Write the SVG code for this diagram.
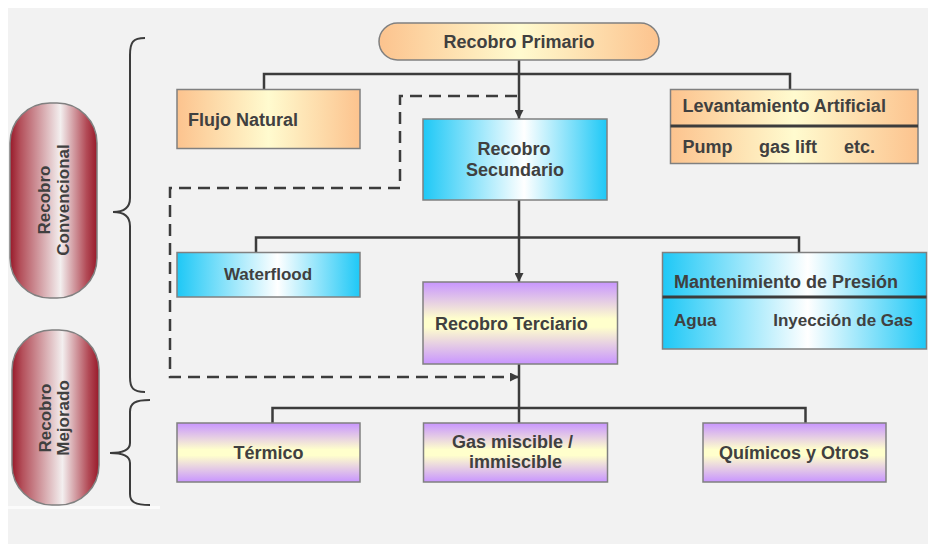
<svg xmlns="http://www.w3.org/2000/svg" width="928" height="544" viewBox="0 0 928 544">
<defs>
<style>
.t{font-family:"Liberation Sans",Arial,sans-serif;font-weight:bold;font-size:18px;fill:#404040}
.s{font-size:17px}
.box{stroke:#808080;stroke-width:1.5}
.ln{fill:none;stroke:#3c3c3c;stroke-width:2.5}
.dash{fill:none;stroke:#3c3c3c;stroke-width:2.5;stroke-dasharray:12 7}
.div{stroke:#3c3c3c;stroke-width:3}
.br{fill:none;stroke:#3c3c3c;stroke-width:2}
</style>
<linearGradient id="gOr" x1="0" y1="0" x2="1" y2="0">
<stop offset="0" stop-color="#fcc38e"/><stop offset="0.5" stop-color="#fffbcf"/><stop offset="1" stop-color="#fcc38e"/>
</linearGradient>
<linearGradient id="gCy" x1="0" y1="0" x2="1" y2="0">
<stop offset="0" stop-color="#1ec8f6"/><stop offset="0.55" stop-color="#ffffff"/><stop offset="1" stop-color="#1ec8f6"/>
</linearGradient>
<linearGradient id="gPu" x1="0" y1="0" x2="0" y2="1">
<stop offset="0" stop-color="#c895ff"/><stop offset="0.45" stop-color="#ffffcc"/><stop offset="0.55" stop-color="#ffffcc"/><stop offset="1" stop-color="#c895ff"/>
</linearGradient>
<linearGradient id="gRd" x1="0" y1="0" x2="1" y2="0">
<stop offset="0" stop-color="#981a2a"/><stop offset="0.12" stop-color="#b4505b"/><stop offset="0.58" stop-color="#f3efef"/><stop offset="0.88" stop-color="#b24a56"/><stop offset="1" stop-color="#981a2a"/>
</linearGradient>
<marker id="ar" markerUnits="userSpaceOnUse" markerWidth="9" markerHeight="9" refX="9" refY="4.5" orient="auto">
<path d="M0,0 L9,4.5 L0,9 z" fill="#3c3c3c"/>
</marker>
</defs>
<rect x="0" y="0" width="928" height="544" fill="#ffffff"/>
<rect x="8" y="8" width="920" height="536" fill="#f2f2f2"/>
<rect x="8" y="506" width="152" height="3" fill="#fbfbfb"/>

<g id="connectors">
<path class="ln" d="M519,60 V74 M264,89 V74 H790 V89"/>
<path class="ln" d="M519,74 V119" marker-end="url(#ar)"/>
<path class="ln" d="M519,200 V237.5 M256,252 V237.5 H799 V252"/>
<path class="ln" d="M519,237.5 V282" marker-end="url(#ar)"/>
<path class="ln" d="M519,364 V423 M272.5,423 V408 H805.5 V423"/>
<path class="dash" d="M517,96 H400 V188 H170 V377 H519" marker-end="url(#ar)"/>
<path class="br" d="M145,38 C133,38 130,42 130,55 V198 C130,207 124,212 113,212 C124,212 130,217 130,226 V377 C130,388 133,392 145,392"/>
<path class="br" d="M150,400 C135,400 130,403 130,412 V443 C130,449 124,453 110,453 C124,453 130,457 130,463 V494 C130,502 135,505 150,505"/>
</g>

<g id="recobro-convencional">
<rect class="box" x="10" y="103" width="87" height="195" rx="40" ry="40" fill="url(#gRd)" stroke="#707070"/>
<text class="t s" transform="translate(50,200) rotate(-90)" text-anchor="middle">Recobro</text>
<text class="t s" transform="translate(69,200) rotate(-90)" text-anchor="middle">Convencional</text>
</g>
<g id="recobro-mejorado">
<rect class="box" x="12" y="330" width="87" height="175" rx="40" ry="40" fill="url(#gRd)" stroke="#707070"/>
<text class="t s" transform="translate(51,418) rotate(-90)" text-anchor="middle">Recobro</text>
<text class="t s" transform="translate(69,418) rotate(-90)" text-anchor="middle">Mejorado</text>
</g>

<g id="recobro-primario">
<rect class="box" x="379" y="23" width="280" height="37" rx="18.5" ry="18.5" fill="url(#gOr)"/>
<text class="t" x="519" y="48" text-anchor="middle">Recobro Primario</text>
</g>
<g id="flujo-natural">
<rect class="box" x="177" y="89.5" width="183" height="59" fill="url(#gOr)"/>
<text class="t" x="188" y="126">Flujo Natural</text>
</g>
<g id="levantamiento-artificial">
<rect class="box" x="670.5" y="89.5" width="247.5" height="74" fill="url(#gOr)"/>
<line class="div" x1="670.5" y1="126" x2="918" y2="126"/>
<text class="t" x="682.5" y="112">Levantamiento Artificial</text>
<text class="t" x="682.5" y="153">Pump</text>
<text class="t" x="759" y="153">gas lift</text>
<text class="t" x="844" y="153">etc.</text>
</g>
<g id="recobro-secundario">
<rect class="box" x="423" y="119" width="184" height="81" fill="url(#gCy)"/>
<text class="t" x="514" y="155" text-anchor="middle">Recobro</text>
<text class="t" x="515" y="176" text-anchor="middle">Secundario</text>
</g>
<g id="waterflood">
<rect class="box" x="177" y="252.5" width="183" height="44.5" fill="url(#gCy)"/>
<text class="t s" x="268" y="280" text-anchor="middle">Waterflood</text>
</g>
<g id="recobro-terciario">
<rect class="box" x="423" y="282" width="194.5" height="82" fill="url(#gPu)"/>
<text class="t" x="435" y="329.5">Recobro Terciario</text>
</g>
<g id="mantenimiento-presion">
<rect class="box" x="662.5" y="252.5" width="264" height="96.5" fill="url(#gCy)"/>
<line class="div" x1="662.5" y1="297" x2="926.5" y2="297"/>
<text class="t" x="674" y="288">Mantenimiento de Presión</text>
<text class="t s" x="674" y="326">Agua</text>
<text class="t s" x="913" y="326" text-anchor="end">Inyección de Gas</text>
</g>
<g id="termico">
<rect class="box" x="177" y="423" width="183" height="59" fill="url(#gPu)"/>
<text class="t" x="268.5" y="459" text-anchor="middle">Térmico</text>
</g>
<g id="gas-miscible">
<rect class="box" x="423.5" y="423" width="184" height="59" fill="url(#gPu)"/>
<text class="t" x="452" y="448">Gas miscible /</text>
<text class="t" x="469" y="468">immiscible</text>
</g>
<g id="quimicos-otros">
<rect class="box" x="703" y="423" width="183" height="59" fill="url(#gPu)"/>
<text class="t" x="719" y="459">Químicos y Otros</text>
</g>
</svg>
